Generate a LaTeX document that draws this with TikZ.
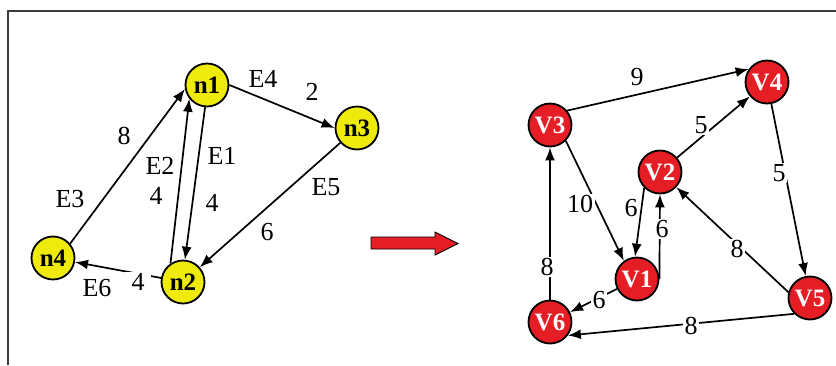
\documentclass[tikz,border=0pt]{standalone}
\usepackage{fontspec}
\setmainfont{Liberation Serif}
\usetikzlibrary{arrows.meta}
\definecolor{nyellow}{RGB}{238,234,12}
\definecolor{vred}{RGB}{228,30,36}
\definecolor{framegray}{RGB}{60,60,60}
\begin{document}
\begin{tikzpicture}[x=1pt,y=-1pt,
  vtx/.style={circle,draw=black,line width=1.8pt,minimum size=43pt,inner sep=0pt,font=\fontsize{25}{25}\selectfont\bfseries},
  nvtx/.style={vtx,fill=nyellow,text=black},
  rvtx/.style={vtx,fill=vred,text=white},
  lbl/.style={font=\fontsize{26}{26}\selectfont,inner sep=1.5pt},
  cut/.style={lbl,fill=white},
  arr/.style={-{Latex[length=13pt,width=10pt]},line width=1.7pt}]
\useasboundingbox (0,0) rectangle (836,365);
\draw[framegray,line width=1.6pt] (8,365) -- (8,11) -- (836,11);
% task graph
\node[nvtx] (n1) at (207,85) {n1};
\node[nvtx] (n2) at (183,282) {n2};
\node[nvtx] (n3) at (357,128) {n3};
\node[nvtx] (n4) at (53,258) {n4};
\draw[arr] (n1.265) -- (n2.85);
\draw[arr] (n2.124) -- (n1.218);
\draw[arr] (n4.40) -- (n1.190);
\draw[arr] (n1.east) -- (n3.west);
\draw[arr] (n3) -- (n2);
\draw[arr] (n2) -- (n4);
\node[lbl] (e4) at (263,79) {E4};
\node[lbl] (w4) at (312,92) {2};
\node[lbl] (e3) at (70,199) {E3};
\node[lbl] (w3) at (124,136) {8};
\node[lbl] (e2) at (160,166) {E2};
\node[lbl] (w2) at (156,196) {4};
\node[lbl] (e1) at (222,156) {E1};
\node[lbl] (w1) at (212,203) {4};
\node[lbl] (e5) at (326,187) {E5};
\node[lbl] (w5) at (267,232) {6};
\node[lbl] (e6) at (97,288) {E6};
\node[cut,minimum width=26pt] (w6) at (138,282) {4};
% mapping arrow
\draw[fill=vred,line width=0.9pt] (371,237) -- (435,237) -- (435,232) -- (458,243.5)
  -- (435,255) -- (435,249) -- (371,249) -- cycle;
% resource graph
\node[rvtx] (V1) at (637,279) {V1};
\node[rvtx] (V2) at (660,172) {V2};
\node[rvtx] (V3) at (550,125) {V3};
\node[rvtx] (V4) at (767,82) {V4};
\node[rvtx] (V5) at (810,298) {V5};
\node[rvtx] (V6) at (550,322) {V6};
\draw[arr] (V3.40) -- (V4.145);
\draw[arr] (V2) -- (V4);
\draw[arr] (V4) -- (V5);
\draw[arr] (V5.165) -- (V2.-43);
\draw[arr] (V5.225) -- (V6.-37);
\draw[arr] (V6) -- (V3);
\draw[arr] (V3.-45) -- (V1.126);
\draw[arr] (V2.225) -- (V1.95);
\draw[arr] (V1.east) -- (V2.south);
\draw[arr] (V1) -- (V6);
\node[cut] (u34) at (637,77) {9};
\node[cut] (u24) at (701,125) {5};
\node[cut] (u45) at (779,173) {5};
\node[cut] (u52) at (737,249) {8};
\node[cut] (u56) at (691,326) {8};
\node[cut] (u63) at (547,267) {8};
\node[cut] (u31) at (580,204) {10};
\node[cut] (u21) at (631,208) {6};
\node[cut] (u12) at (662,229) {6};
\node[cut] (u16) at (599,300) {6};
\end{tikzpicture}
\end{document}
